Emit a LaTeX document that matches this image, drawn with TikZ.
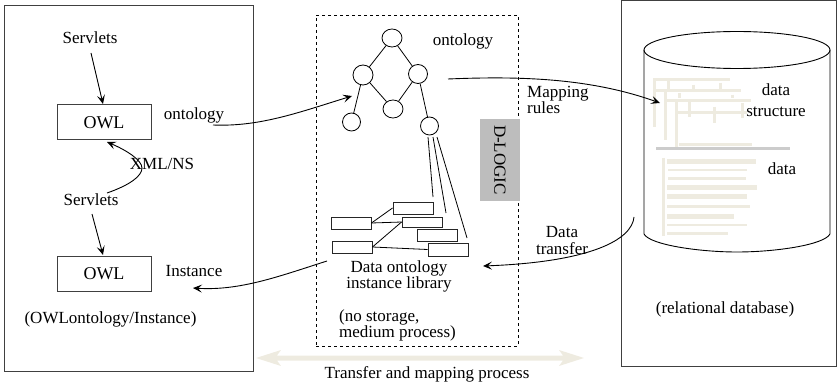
\documentclass[tikz,border=0pt]{standalone}
\usepackage{fontspec}
\setmainfont{Liberation Serif}
\usetikzlibrary{arrows.meta,shapes.geometric}
\definecolor{pale}{HTML}{EEEBE0}
\tikzset{
  lbl/.style={inner sep=0pt,font=\fontsize{17}{15}\selectfont,align=center},
  frame/.style={draw=black!75,line width=1pt},
  owl/.style={draw=black!75,line width=1pt,minimum width=94pt,minimum height=35pt,inner sep=0pt,font=\fontsize{18}{18}\selectfont},
  ball/.style={draw,ellipse,line width=.8pt,inner sep=0pt},
  rec/.style={draw=black!85,line width=.9pt,inner sep=0pt,minimum width=40pt},
  link/.style={line width=.8pt},
  arr/.style={line width=.9pt,-{Stealth[length=9pt,width=8pt,inset=4pt]}},
  pbar/.style={pale,line width=3pt},
  pfat/.style={pale,line width=5pt},
  pthin/.style={pale,line width=2.6pt}
}
\begin{document}
\begin{tikzpicture}[x=1pt,y=-1pt]
\useasboundingbox (0,0) rectangle (837,382);
% frames
\node[frame,minimum width=249pt,minimum height=365pt,inner sep=0pt] (leftbox) at (128.5,188.5) {};
\node[frame,minimum width=215pt,minimum height=365pt,inner sep=0pt] (rightbox) at (728.5,183.5) {};
\node[draw,dashed,line width=.7pt,minimum width=202pt,minimum height=331pt,inner sep=0pt] (dashbox) at (417,180.5) {};
\node[fill=black!26,minimum width=40pt,minimum height=82pt,inner sep=0pt] (dlogic) at (500,160) {};
\node[lbl,rotate=-90] (dlogictext) at (500,160) {D-LOGIC};
% cylinder
\draw[line width=.9pt,fill=white] (644,50) -- (644,234) .. controls (650,245) and (700,252) .. (737,252) .. controls (775,252) and (824,245) .. (830,234) -- (830,50);
\draw[line width=.9pt] (737,50) ellipse[x radius=93,y radius=18.5];
% data structure
\draw[pbar] (653,80) -- (730,80); \draw[pbar] (654,80) -- (654,127);
\draw[pbar] (655,91) -- (741,91); \draw[pbar] (665,91) -- (665,140);
\draw[pbar] (665,101) -- (751,101); \draw[pbar] (676,101) -- (676,149);
\draw[pbar] (676,112.5) -- (747,112.5); \draw[pbar] (679,145) -- (752,145);
\draw[pbar] (668,80) -- (668,89); \draw[pbar] (693,85) -- (693,89); \draw[pbar] (720,83) -- (720,89);
\draw[pbar] (679,93) -- (679,98); \draw[pbar] (732,95) -- (732,98);
\draw[pbar] (689,102) -- (689,117); \draw[pbar] (714,107) -- (714,123); \draw[pbar] (742,103) -- (742,118);
\draw[black!20,line width=2.4pt] (656,148.7) -- (790,148.7);
\draw[pbar] (663,158) -- (663,236);
\draw[pfat] (667,161.5) -- (756,161.5);
\draw[pthin] (668,170) -- (747,170);
\draw[pthin] (668,178.7) -- (746,178.7);
\draw[pfat] (667,187.3) -- (757,187.3);
\draw[pfat] (667,196.3) -- (747,196.3);
\draw[pthin] (667,206.3) -- (750,206.3);
\draw[pfat] (667,216.3) -- (734,216.3);
\draw[pthin] (667,225) -- (747,225);
\draw[pthin] (667,233.3) -- (728,233.3);
% big arrow
\fill[pale] (256,358) -- (281,350) -- (277,355.5) -- (563,355.5) -- (559,350) -- (584,358) -- (559,366) -- (563,360.5) -- (277,360.5) -- (281,366) -- cycle;
% left content
\node[owl] (owla) at (104,122.5) {OWL};
\node[owl] (owlb) at (104,273.5) {OWL};
\node[lbl] (serva) at (90,38) {Servlets};
\node[lbl] (servb) at (91,200) {Servlets};
\coordinate (sa) at (91,53); \coordinate (ea) at (103,104);
\coordinate (sb) at (92,214); \coordinate (eb) at (103,255);
\draw[arr] (sa) -- (ea);
\draw[arr] (sb) -- (eb);
\coordinate (xs) at (107,193); \coordinate (xe) at (107,142);
\draw[arr] (xs) .. controls (130,185) and (142,176) .. (142,168) .. controls (142,160) and (126,150) .. (xe);
\node[lbl] (xml) at (162,164) {XML/NS};
\node[lbl] (onta) at (194,115) {ontology};
\node[lbl] (inst) at (194,271) {Instance};
\node[lbl] (owlcap) at (110.5,319) {(OWLontology/Instance)};
% ontology
\node[ball,minimum width=20pt,minimum height=18pt] (c1) at (392,38) {};
\node[ball,minimum width=20pt,minimum height=20pt] (c2) at (363,75) {};
\node[ball,minimum width=19pt,minimum height=19pt] (c3) at (418,74) {};
\node[ball,minimum width=20pt,minimum height=18pt] (c4) at (393,109) {};
\node[ball,minimum width=18pt,minimum height=18pt] (c5) at (351.5,122) {};
\node[ball,minimum width=18pt,minimum height=18pt] (c6) at (429.5,126) {};
\draw[link] (c1) -- (c2);
\draw[link] (c1) -- (c3);
\draw[link] (c2) -- (c4);
\draw[link] (c3) -- (c4);
\draw[link] (c2) -- (c5);
\draw[link] (c3) -- (c6);
\node[lbl] (ontb) at (463,41) {ontology};
% records
\node[rec,minimum height=12pt] (r1) at (413,208) {};
\node[rec,minimum height=12pt] (r2) at (351,223) {};
\node[rec,minimum height=10pt] (r3) at (422,222) {};
\node[rec,minimum height=12pt] (r4) at (437,235) {};
\node[rec,minimum height=12pt] (r5) at (352,247) {};
\node[rec,minimum height=13pt] (r6) at (448,249.5) {};
\draw[link] (r2.east) -- (r1.west);
\draw[link] (r2.east) -- (r3.west);
\draw[link] (r5.east) -- (r3.west);
\draw[link] (r5.east) -- (r6.west);
\coordinate (la) at (428,137); \coordinate (lb) at (433,137); \coordinate (lc) at (437,137);
\coordinate (ta) at (433,197); \coordinate (tb) at (446,213);
\draw[link] (la) -- (ta);
\draw[link] (lb) -- (tb);
\draw[link] (lc) -- (467,238);
\node[lbl] (lib) at (399,276.5) {Data ontology\\instance library};
\node[lbl,align=left,anchor=west] (nost) at (339,325.5) {(no storage,\\medium process)};
% mapping
\node[lbl,align=left,anchor=west] (maptxt) at (527,100) {Mapping\\rules};
\node[lbl] (dt) at (562,240.5) {Data\\[2pt]transfer};
\coordinate (ms) at (448,79); \coordinate (me) at (660,103);
\draw[arr] (ms) .. controls (520,76) and (590,78) .. (me);
\coordinate (ds) at (634,217); \coordinate (de) at (483,266);
\draw[arr] (ds) .. controls (632,240) and (590,262) .. (de);
\coordinate (os) at (213,125); \coordinate (oe) at (352,96);
\draw[arr] (os) .. controls (260,127) and (300,112) .. (oe);
\coordinate (is) at (327,261); \coordinate (ie) at (193,288);
\draw[arr] (is) .. controls (280,276) and (240,291) .. (ie);
\node[lbl,align=center] (dst) at (776,100.5) {data\\[6pt]structure};
\node[lbl] (dat) at (782,169) {data};
\node[lbl] (reldb) at (725,309) {(relational database)};
\node[lbl] (tmp) at (427,374) {Transfer and mapping process};
\end{tikzpicture}
\end{document}
